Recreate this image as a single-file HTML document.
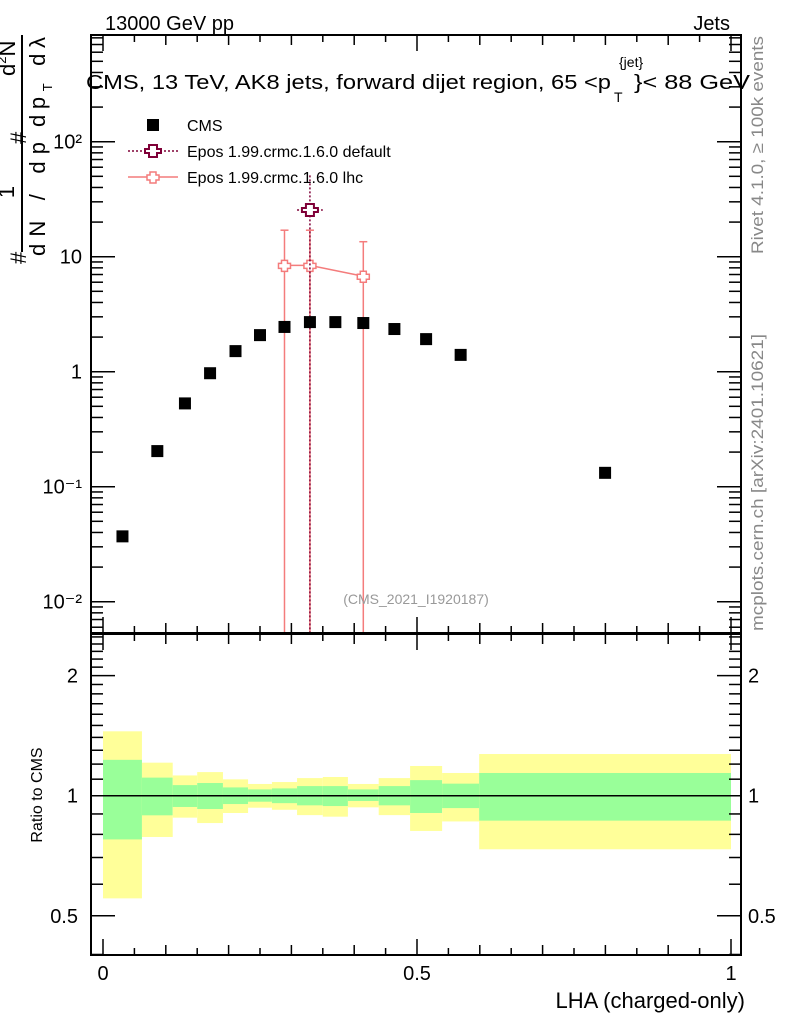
<!DOCTYPE html>
<html><head><meta charset="utf-8"><style>
html,body{margin:0;padding:0;background:#fff}
svg{display:block;font-family:"Liberation Sans",sans-serif}
</style></head><body>
<svg id="c" width="786" height="1024" viewBox="0 0 786 1024" xmlns="http://www.w3.org/2000/svg">
<defs>
<clipPath id="mainclip"><rect x="91" y="35" width="650" height="598"/></clipPath>
<clipPath id="ratclip"><rect x="91" y="634" width="650" height="321"/></clipPath>
</defs>
<g id="bands" clip-path="url(#ratclip)"></g>
<g id="marks" clip-path="url(#mainclip)"></g>
<g id="axes"></g>
<text x="105" y="30" font-size="20">13000 GeV pp</text>
<text x="730" y="30" font-size="20" text-anchor="end">Jets</text>
<g>
<text x="86" y="89" font-size="20" textLength="525" lengthAdjust="spacingAndGlyphs">CMS, 13 TeV, AK8 jets, forward dijet region, 65 &lt;p</text>
<text x="619" y="67" font-size="14">{jet}</text>
<text x="614" y="102" font-size="14">T</text>
<text x="634" y="89" font-size="20" textLength="116" lengthAdjust="spacingAndGlyphs">}&lt; 88 GeV</text>
</g>
<g font-size="22">
<text transform="translate(26,264) rotate(-90)">#</text>
<text transform="translate(14,192) rotate(-90)" text-anchor="middle">1</text>
<line x1="22" y1="35" x2="22" y2="252" stroke="#000" stroke-width="2"/>
<text transform="translate(45,256) rotate(-90)" textLength="114" lengthAdjust="spacing">dN / dp</text>
<text transform="translate(26,144) rotate(-90)">#</text>
<text transform="translate(15,76) rotate(-90)">d<tspan font-size="13" dy="-9">2</tspan><tspan dy="9">N</tspan></text>
<text transform="translate(45,127) rotate(-90)" textLength="90" lengthAdjust="spacing">dp<tspan font-size="13" dy="7">T</tspan><tspan dy="-7">  dλ</tspan></text>
</g>
<text transform="translate(763,254) rotate(-90)" font-size="17" fill="#888" textLength="218" lengthAdjust="spacingAndGlyphs">Rivet 4.1.0, ≥ 100k events</text>
<text transform="translate(763,631) rotate(-90)" font-size="17" fill="#888" textLength="297" lengthAdjust="spacingAndGlyphs">mcplots.cern.ch [arXiv:2401.10621]</text>
<text x="416" y="604" font-size="14" fill="#999" text-anchor="middle">(CMS_2021_I1920187)</text>
<text transform="translate(42,795) rotate(-90)" font-size="16" text-anchor="middle">Ratio to CMS</text>
<text x="745" y="1008" font-size="22" text-anchor="end">LHA (charged-only)</text>
<g font-size="16">
<rect x="147" y="119" width="12" height="12" fill="#000"/>
<text x="187" y="131">CMS</text>
<line x1="128" y1="151" x2="178" y2="151" stroke="#7f0037" stroke-width="1.5" stroke-dasharray="2,2"/>
<path d="M149,145h8v4h4v4h-4v4h-8v-4h-4v-4h4z" fill="#fff" stroke="#7f0037" stroke-width="2"/>
<text x="187" y="157">Epos 1.99.crmc.1.6.0 default</text>
<line x1="128" y1="177" x2="178" y2="177" stroke="#f47c7c" stroke-width="1.5"/>
<path d="M150,172h6v3h3v5h-3v3h-6v-3h-3v-5h3z" fill="#fff" stroke="#f47c7c" stroke-width="1.5"/>
<text x="187" y="183">Epos 1.99.crmc.1.6.0 lhc</text>
</g>
</svg>
<script>
const binEdges = [0,0.062,0.111,0.15,0.191,0.231,0.269,0.309,0.35,0.39,0.439,0.489,0.54,0.599,1];
const cmsValues = [0.037,0.204,0.53,0.97,1.51,2.08,2.45,2.7,2.7,2.65,2.35,1.92,1.40,0.132];
const lhcBins = [6,7,9];
const lhcValues = [8.4,8.4,6.76];
const lhcUp = [17,17,13.5];
const defBins = [7];
const defValues = [25.5];
const defUp = [51];
const yellowHi = [1.45,1.21,1.124,1.146,1.099,1.070,1.082,1.107,1.114,1.070,1.107,1.187,1.140,1.272];
const greenHi = [1.23,1.11,1.063,1.076,1.049,1.037,1.043,1.057,1.057,1.037,1.057,1.094,1.072,1.140];
const greenLo = [0.777,0.893,0.937,0.926,0.953,0.966,0.958,0.946,0.942,0.970,0.946,0.905,0.931,0.866];
const yellowLo = [0.553,0.788,0.881,0.854,0.905,0.933,0.922,0.894,0.886,0.935,0.894,0.816,0.862,0.734];
const xTickLabels = ["0","0.5","1"];
const xTickValues = [0,0.5,1];
const yTickLabels = ["10²","10","1","10⁻¹","10⁻²"];
const yTickValues = [100,10,1,0.1,0.01];
const rTickLabels = ["2","1","0.5"];
const rTickValues = [2,1,0.5];

const NS="http://www.w3.org/2000/svg";
const X=v=>103+628*v;
const Y=v=>371.7-115*Math.log10(v);
const R=v=>795.7-399*Math.log10(v);
function mk(parent,tag,attrs){const e=document.createElementNS(NS,tag);for(const k in attrs)e.setAttribute(k,attrs[k]);parent.appendChild(e);return e;}
const bands=document.getElementById('bands'),marks=document.getElementById('marks'),axes=document.getElementById('axes');

for(let i=0;i<cmsValues.length;i++){
  const x0=X(binEdges[i]),x1=X(binEdges[i+1]);
  let e=mk(bands,'rect',{x:x0,y:R(yellowHi[i]),width:x1-x0,height:R(yellowLo[i])-R(yellowHi[i]),fill:'#ffff99'});
  
  
  e=mk(bands,'rect',{x:x0,y:R(greenHi[i]),width:x1-x0,height:R(greenLo[i])-R(greenHi[i]),fill:'#99ff99'});
  
  
}
let l=mk(bands,'line',{x1:91,x2:741,y1:R(1),y2:R(1),stroke:'#000','stroke-width':1.5});



const cx=i=>(X(binEdges[i])+X(binEdges[i+1]))/2;
let pts=lhcBins.map((b,j)=>cx(b)+','+Y(lhcValues[j])).join(' ');
l=mk(marks,'polyline',{points:pts,fill:'none',stroke:'#f47c7c','stroke-width':1.5});


lhcBins.forEach((b,j)=>{
  const x=cx(b),y=Y(lhcValues[j]);
  let e=mk(marks,'line',{x1:x,x2:x,y1:Y(lhcUp[j]),y2:640,stroke:'#f47c7c','stroke-width':1.5});
  
  
  e=mk(marks,'line',{x1:x-4,x2:x+4,y1:Y(lhcUp[j]),y2:Y(lhcUp[j]),stroke:'#f47c7c','stroke-width':1.5});
  
  
  e=mk(marks,'path',{d:`M${x-3},${y-5}h6v3h3v5h-3v3h-6v-3h-3v-5h3z`,fill:'#fff',stroke:'#f47c7c','stroke-width':1.5});
  
  
});
defBins.forEach((b,j)=>{
  const x=cx(b),y=Y(defValues[j]);
  let e=mk(marks,'line',{x1:x,x2:x,y1:Y(defUp[j]),y2:640,stroke:'#7f0037','stroke-width':1.5,'stroke-dasharray':'2,2'});
  
  
  e=mk(marks,'line',{x1:X(binEdges[b]),x2:X(binEdges[b+1]),y1:y,y2:y,stroke:'#7f0037','stroke-width':1.5,'stroke-dasharray':'2,2'});
  
  
  e=mk(marks,'path',{d:`M${x-4},${y-6}h8v4h4v4h-4v4h-8v-4h-4v-4h4z`,fill:'#fff',stroke:'#7f0037','stroke-width':2});
  
  
});
cmsValues.forEach((v,i)=>{
  const e=mk(marks,'rect',{x:cx(i)-6,y:Y(v)-6,width:12,height:12,fill:'#000'});
  
  
});

[[91,35,650,598],[91,634,650,321]].forEach(f=>{
  const e=mk(axes,'rect',{x:f[0],y:f[1],width:f[2],height:f[3],fill:'none',stroke:'#000','stroke-width':2});
  
  
});
function tick(x1,y1,x2,y2){mk(axes,'line',{x1,y1,x2,y2,stroke:'#000','stroke-width':1.5});}
for(let k=0;k<=20;k++){
  const v=k*0.05,x=X(v),len=(k%10==0)?16:(k%2==0?10:7);
  tick(x,35,x,35+len);tick(x,633,x,633-len);tick(x,634,x,634+len);tick(x,955,x,955-len);
}
for(let d=-3;d<=2;d++){for(let m=1;m<=9;m++){
  const v=m*Math.pow(10,d),y=Y(v);if(y<35||y>633)continue;
  const len=m==1?24:12;tick(91,y,91+len,y);tick(741,y,741-len,y);
}}
for(let v=0.4;v<=2.55;v+=0.1){const y=R(v);if(y<634||y>955)continue;
  const major=Math.abs(v-0.5)<1e-6||Math.abs(v-1)<1e-6||Math.abs(v-2)<1e-6;
  const len=major?24:12;tick(91,y,91+len,y);tick(741,y,741-len,y);}
xTickValues.forEach((v,i)=>{const t=mk(axes,'text',{x:X(v),y:980,'font-size':20,'text-anchor':'middle'});t.textContent=xTickLabels[i];
  
  });
yTickValues.forEach((v,i)=>{const t=mk(axes,'text',{x:82,y:Y(v)+7,'font-size':20,'text-anchor':'end'});t.textContent=yTickLabels[i];
  
  });
rTickValues.forEach((v,i)=>{let t=mk(axes,'text',{x:78,y:R(v)+7,'font-size':20,'text-anchor':'end'});t.textContent=rTickLabels[i];
  
  
  t=mk(axes,'text',{x:748,y:R(v)+7,'font-size':20});t.textContent=rTickLabels[i];
  
  });
</script>
</body></html>
